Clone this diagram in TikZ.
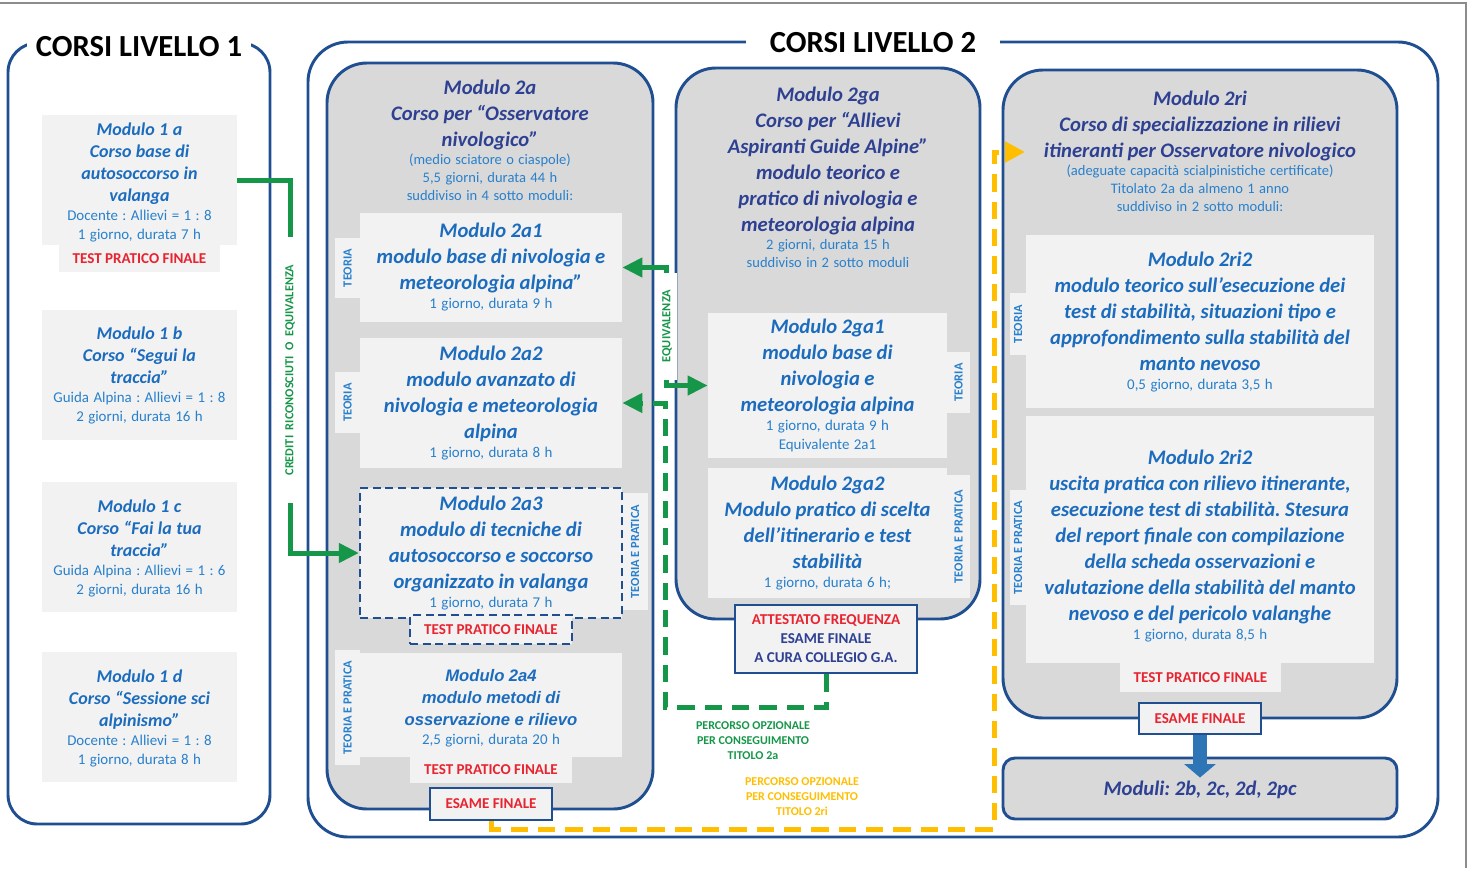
\documentclass[tikz,border=0pt]{standalone}
\usepackage{fontspec}
\setmainfont{Carlito}
\newfontfamily\arialf{Liberation Sans}
\usetikzlibrary{arrows.meta}
\definecolor{frameblue}{RGB}{31,78,145}
\definecolor{navy}{RGB}{46,64,146}
\definecolor{modblue}{RGB}{28,108,190}
\definecolor{lblue}{RGB}{40,128,204}
\definecolor{red1}{RGB}{232,36,48}
\definecolor{grn}{RGB}{22,150,72}
\definecolor{orng}{RGB}{255,190,0}
\definecolor{panelgray}{RGB}{217,217,217}
\definecolor{boxgray}{RGB}{242,242,242}
\definecolor{arrowblue}{RGB}{46,117,182}
\definecolor{framegray}{RGB}{140,140,140}
\newcommand\fBig{\fontsize{23}{27}\selectfont\bfseries}
\newcommand\fTA{\fontsize{13.5}{16.5}\selectfont\bfseries\itshape}
\newcommand\fTB{\fontsize{15.5}{19.5}\selectfont\bfseries\itshape}
\newcommand\fTC{\arialf\fontsize{12.5}{16.5}\selectfont\bfseries\itshape}
\newcommand\fSA{\fontsize{11.2}{14.25}\selectfont}
\newcommand\fSB{\fontsize{10.9}{13.5}\selectfont}
\newcommand\fRed{\fontsize{11.3}{14.25}\selectfont\bfseries}
\newcommand\fVL{\fontsize{9.3}{10}\selectfont\bfseries}
\newcommand\fCR{\fontsize{9.2}{10}\selectfont\bfseries}
\newcommand\fPO{\fontsize{9}{11.25}\selectfont\bfseries}
\frenchspacing
\begin{document}
\begin{tikzpicture}[x=0.75pt,y=-0.75pt,
  wh/.style 2 args={minimum width=#1*0.75pt, minimum height=#2*0.75pt},
  panel/.style={draw=frameblue, line width=2.2pt, fill=panelgray, rounded corners=30pt, inner sep=0pt},
  lvl/.style={draw=frameblue, line width=2.2pt, inner sep=0pt},
  bx/.style={fill=boxgray, inner sep=0pt},
  tabv/.style={fill=boxgray, inner sep=0pt, rotate=90, font=\fVL, text=lblue},
  redtab/.style={fill=boxgray, inner sep=0pt, font=\fRed, text=red1},
  esame/.style={draw=frameblue, line width=2.2pt, fill=boxgray, inner sep=0pt, font=\fRed, text=red1},
  txt/.style={align=center, inner sep=0pt, text width=#1},
  bigtitle/.style={fill=white, font=\fBig, text=black, inner ysep=2pt},
  vlab/.style={rotate=90, font=\fVL, inner sep=0pt},
  gline/.style={draw=grn, line width=3.75pt},
  gdash/.style={draw=grn, line width=3.75pt, dash pattern=on 13pt off 7.5pt},
  odash/.style={draw=orng, line width=3.75pt, dash pattern=on 13pt off 7.5pt},
  gtip/.style={-{Triangle[length=15pt,width=14pt]}},
  otip/.style={-{Triangle[length=15pt,width=15pt]}},
  fat/.style={draw=arrowblue, line width=10.5pt, -{Triangle[length=10pt,width=23pt]}},
  po/.style={font=\fPO, align=center, inner sep=0pt}
]
\useasboundingbox (0,0) rectangle (1474,868);
\draw[framegray, line width=2.2pt] (0,3) -- (1466,3) -- (1466,868);

% ---------- LEVEL 1 ----------
\node[lvl, rounded corners=22pt, wh={262}{781}] (L1) at (139,433.5) {};
\node[bigtitle, inner xsep=7pt] (T1) at (139,47) {CORSI LIVELLO 1};

\node[bx, wh={195}{130}] (b1a) at (139.5,180) {};
\node[redtab, wh={161}{27}] (t1a) at (139.5,258.5) {TEST PRATICO FINALE};
\node[txt=150pt] (m1a) at (139.5,182) {{\fTA\color{modblue}Modulo 1 a\\Corso base di\\autosoccorso in\\valanga\par}{\fSA\color{lblue}Docente : Allievi = 1 : 8\\1 giorno, durata 7 h\par}};

\node[bx, wh={195}{130}] (b1b) at (139.5,375) {};
\node[txt=150pt] (m1b) at (139.5,375) {{\fTA\color{modblue}Modulo 1 b\\Corso “Segui la\\traccia”\par}{\fSA\color{lblue}Guida Alpina : Allievi = 1 : 8\\2 giorni, durata 16 h\par}};

\node[bx, wh={195}{130}] (b1c) at (139.5,547) {};
\node[txt=150pt] (m1c) at (139.5,548) {{\fTA\color{modblue}Modulo 1 c\\Corso “Fai la tua\\traccia”\par}{\fSA\color{lblue}Guida Alpina : Allievi = 1 : 6\\2 giorni, durata 16 h\par}};

\node[bx, wh={195}{130}] (b1d) at (139.5,717) {};
\node[txt=150pt] (m1d) at (139.5,718) {{\fTA\color{modblue}Modulo 1 d\\Corso “Sessione sci\\alpinismo”\par}{\fSA\color{lblue}Docente : Allievi = 1 : 8\\1 giorno, durata 8 h\par}};

% ---------- LEVEL 2 frame ----------
\node[lvl, rounded corners=30pt, wh={1130}{795}] (L2) at (873,439.5) {};
\node[bigtitle, inner xsep=18pt] (T2) at (873,43) {CORSI LIVELLO 2};

% green credit connector
\coordinate (g1) at (290,237);
\coordinate (g2) at (290,503);
\node[vlab, font=\fCR, text=grn] (cred) at (290,370) {CREDITI~~RICONOSCIUTI~~O~~EQUIVALENZA};

% ---------- panels ----------
\node[panel, wh={326}{746}] (p2a) at (490,436) {};
\node[panel, wh={304}{551}] (p2ga) at (828,343.5) {};
\node[panel, wh={394}{648}] (p2ri) at (1200,394) {};

% ---------- Modulo 2a ----------
\node[txt=300pt] (h2a) at (490,140.5) {{\fTB\color{navy}Modulo 2a\\Corso per “Osservatore\\nivologico”\par}{\fSB\color{lblue}(medio sciatore o ciaspole)\\5,5 giorni, durata 44 h\\suddiviso in 4 sotto moduli:\par}};

\node[tabv, wh={60}{25}] (tb2a1) at (347.5,268) {TEORIA};
\node[bx, wh={262}{109}] (b2a1) at (491,267.5) {};
\node[txt=210pt] (m2a1) at (491,267) {{\fTB\color{modblue}Modulo 2a1\\modulo base di nivologia e\\meteorologia alpina”\par}{\fSA\color{lblue}1 giorno, durata 9 h\par}};

\node[tabv, wh={61}{25}] (tb2a2) at (347.5,402.5) {TEORIA};
\node[bx, wh={262}{130}] (b2a2) at (491,403) {};
\node[txt=210pt] (m2a2) at (491,403) {{\fTB\color{modblue}Modulo 2a2\\modulo avanzato di\\nivologia e meteorologia\\alpina\par}{\fSA\color{lblue}1 giorno, durata 8 h\par}};

\node[tabv, wh={117}{26}] (tb2a3) at (635,551.5) {TEORIA E PRATICA};
\node[bx, draw=frameblue, line width=1.6pt, dash pattern=on 6pt off 3.5pt, wh={262}{130}] (b2a3) at (491,553) {};
\node[txt=210pt] (m2a3) at (491,553.5) {{\fTB\color{modblue}Modulo 2a3\\modulo di tecniche di\\autosoccorso e soccorso\\organizzato in valanga\par}{\fSA\color{lblue}1 giorno, durata 7 h\par}};
\node[redtab, draw=frameblue, line width=1.6pt, dash pattern=on 6pt off 3.5pt, wh={162}{29}] (t2a3) at (491,629.5) {TEST PRATICO FINALE};

\node[tabv, wh={115}{25}] (tb2a4) at (347.5,707.5) {TEORIA E PRATICA};
\node[bx, wh={262}{104}] (b2a4) at (491,705) {};
\node[redtab, wh={162}{26}] (t2a4) at (491,770) {TEST PRATICO FINALE};
\node[txt=210pt] (m2a4) at (491,708) {{\fTC\color{modblue}Modulo 2a4\\modulo metodi di\\osservazione e rilievo\par}{\fSA\color{lblue}2,5 giorni, durata 20 h\par}};

\node[esame, wh={122}{32}] (e2a) at (491,804) {ESAME FINALE};

% ---------- Modulo 2ga ----------
\node[txt=300pt] (h2ga) at (828,177) {{\fTB\color{navy}Modulo 2ga\\Corso per “Allievi\\Aspiranti Guide Alpine”\\modulo teorico e\\pratico di nivologia e\\meteorologia alpina\par}{\fSB\color{lblue}2 giorni, durata 15 h\\suddiviso in 2 sotto moduli\par}};

\node[tabv, wh={61}{23}] (tb2ga1) at (958.5,382.5) {TEORIA};
\node[bx, wh={239}{145}] (b2ga1) at (827.5,385.5) {};
\node[txt=210pt] (m2ga1) at (827.5,385) {{\fTB\color{modblue}Modulo 2ga1\\modulo base di\\nivologia e\\meteorologia alpina\par}{\fSA\color{lblue}1 giorno, durata 9 h\\Equivalente 2a1\par}};

\node[tabv, wh={123}{23}] (tb2ga2) at (958.5,536.5) {TEORIA E PRATICA};
\node[bx, wh={239}{130}] (b2ga2) at (827.5,533) {};
\node[txt=210pt] (m2ga2) at (827.5,533) {{\fTB\color{modblue}Modulo 2ga2\\Modulo pratico di scelta\\dell’itinerario e test\\stabilità\par}{\fSA\color{lblue}1 giorno, durata 6 h;\par}};

\node[esame, wh={182}{68}, align=center] (att) at (826,639) {ATTESTATO FREQUENZA\\\textcolor{navy}{ESAME FINALE}\\\textcolor{navy}{A CURA COLLEGIO G.A.}};

% equivalence tab
\node[fill=white, inner sep=0pt, wh={22}{107}] (eq) at (666,326.5) {};
\node[vlab, text=grn] (eqt) at (667,326) {EQUIVALENZA};

% ---------- Modulo 2ri ----------
\node[txt=320pt] (h2ri) at (1200,151.5) {{\fTB\color{navy}Modulo 2ri\\Corso di specializzazione in rilievi\\itineranti per Osservatore nivologico\par}{\fSB\color{lblue}(adeguate capacità scialpinistiche certificate)\\Titolato 2a da almeno 1 anno\\suddiviso in 2 sotto moduli:\par}};

\node[tabv, wh={62}{16}] (tb2ri1) at (1018,324) {TEORIA};
\node[bx, wh={348}{173}] (b2ri1) at (1200,321.5) {};
\node[txt=300pt] (m2ri1) at (1200,322) {{\fTB\color{modblue}Modulo 2ri2\\modulo teorico sull’esecuzione dei\\test di stabilità, situazioni tipo e\\approfondimento sulla stabilità del\\manto nevoso\par}{\fSA\color{lblue}0,5 giorno, durata 3,5 h\par}};

\node[tabv, wh={115}{16}] (tb2ri2) at (1018,547.5) {TEORIA E PRATICA};
\node[bx, wh={348}{247}] (b2ri2) at (1200,539.5) {};
\node[redtab, wh={161}{29}] (t2ri) at (1200.5,677.5) {TEST PRATICO FINALE};
\node[txt=300pt] (m2ri2) at (1200,546) {{\fTB\color{modblue}Modulo 2ri2\\uscita pratica con rilievo itinerante,\\esecuzione test di stabilità. Stesura\\del report finale con compilazione\\della scheda osservazioni e\\valutazione della stabilità del manto\\nevoso e del pericolo valanghe\par}{\fSA\color{lblue}1 giorno, durata 8,5 h\par}};

\node[esame, wh={122}{31}] (e2ri) at (1200,718.5) {ESAME FINALE};

\node[draw=frameblue, line width=2.2pt, fill=panelgray, rounded corners=9pt, wh={394}{61}, inner sep=0pt] (mod) at (1200,788.5) {};
\node[inner sep=0pt, font=\fTB, text=navy] (modt) at (1200,790) {Moduli: 2b, 2c, 2d, 2pc};
\draw[fat] (e2ri.south) -- ([yshift=-15.75pt]mod.north);

% ---------- connectors ----------
\draw[gline] (b1a.east) -| (g1);
\draw[gline, gtip] (g2) |- (b2a3.west);
\draw[gline, gtip] (eq.north) |- (b2a1.east);
\draw[gline, gtip] (eq.south) |- (b2ga1.west);
\coordinate (gd) at (665,707);
\draw[gdash, gtip] (att.south) |- (gd) |- (b2a2.east);
\node[po, text=grn] (gtxt) at (753,741) {PERCORSO OPZIONALE\\PER CONSEGUIMENTO\\TITOLO 2a};

\coordinate (oc) at (994,829);
\coordinate (oend) at (1025,152);
\draw[odash, otip] (e2a.south) |- (oc) |- (oend);
\node[po, text=orng] (otxt) at (802,797) {PERCORSO OPZIONALE\\PER CONSEGUIMENTO\\TITOLO 2ri};
\end{tikzpicture}
\end{document}
